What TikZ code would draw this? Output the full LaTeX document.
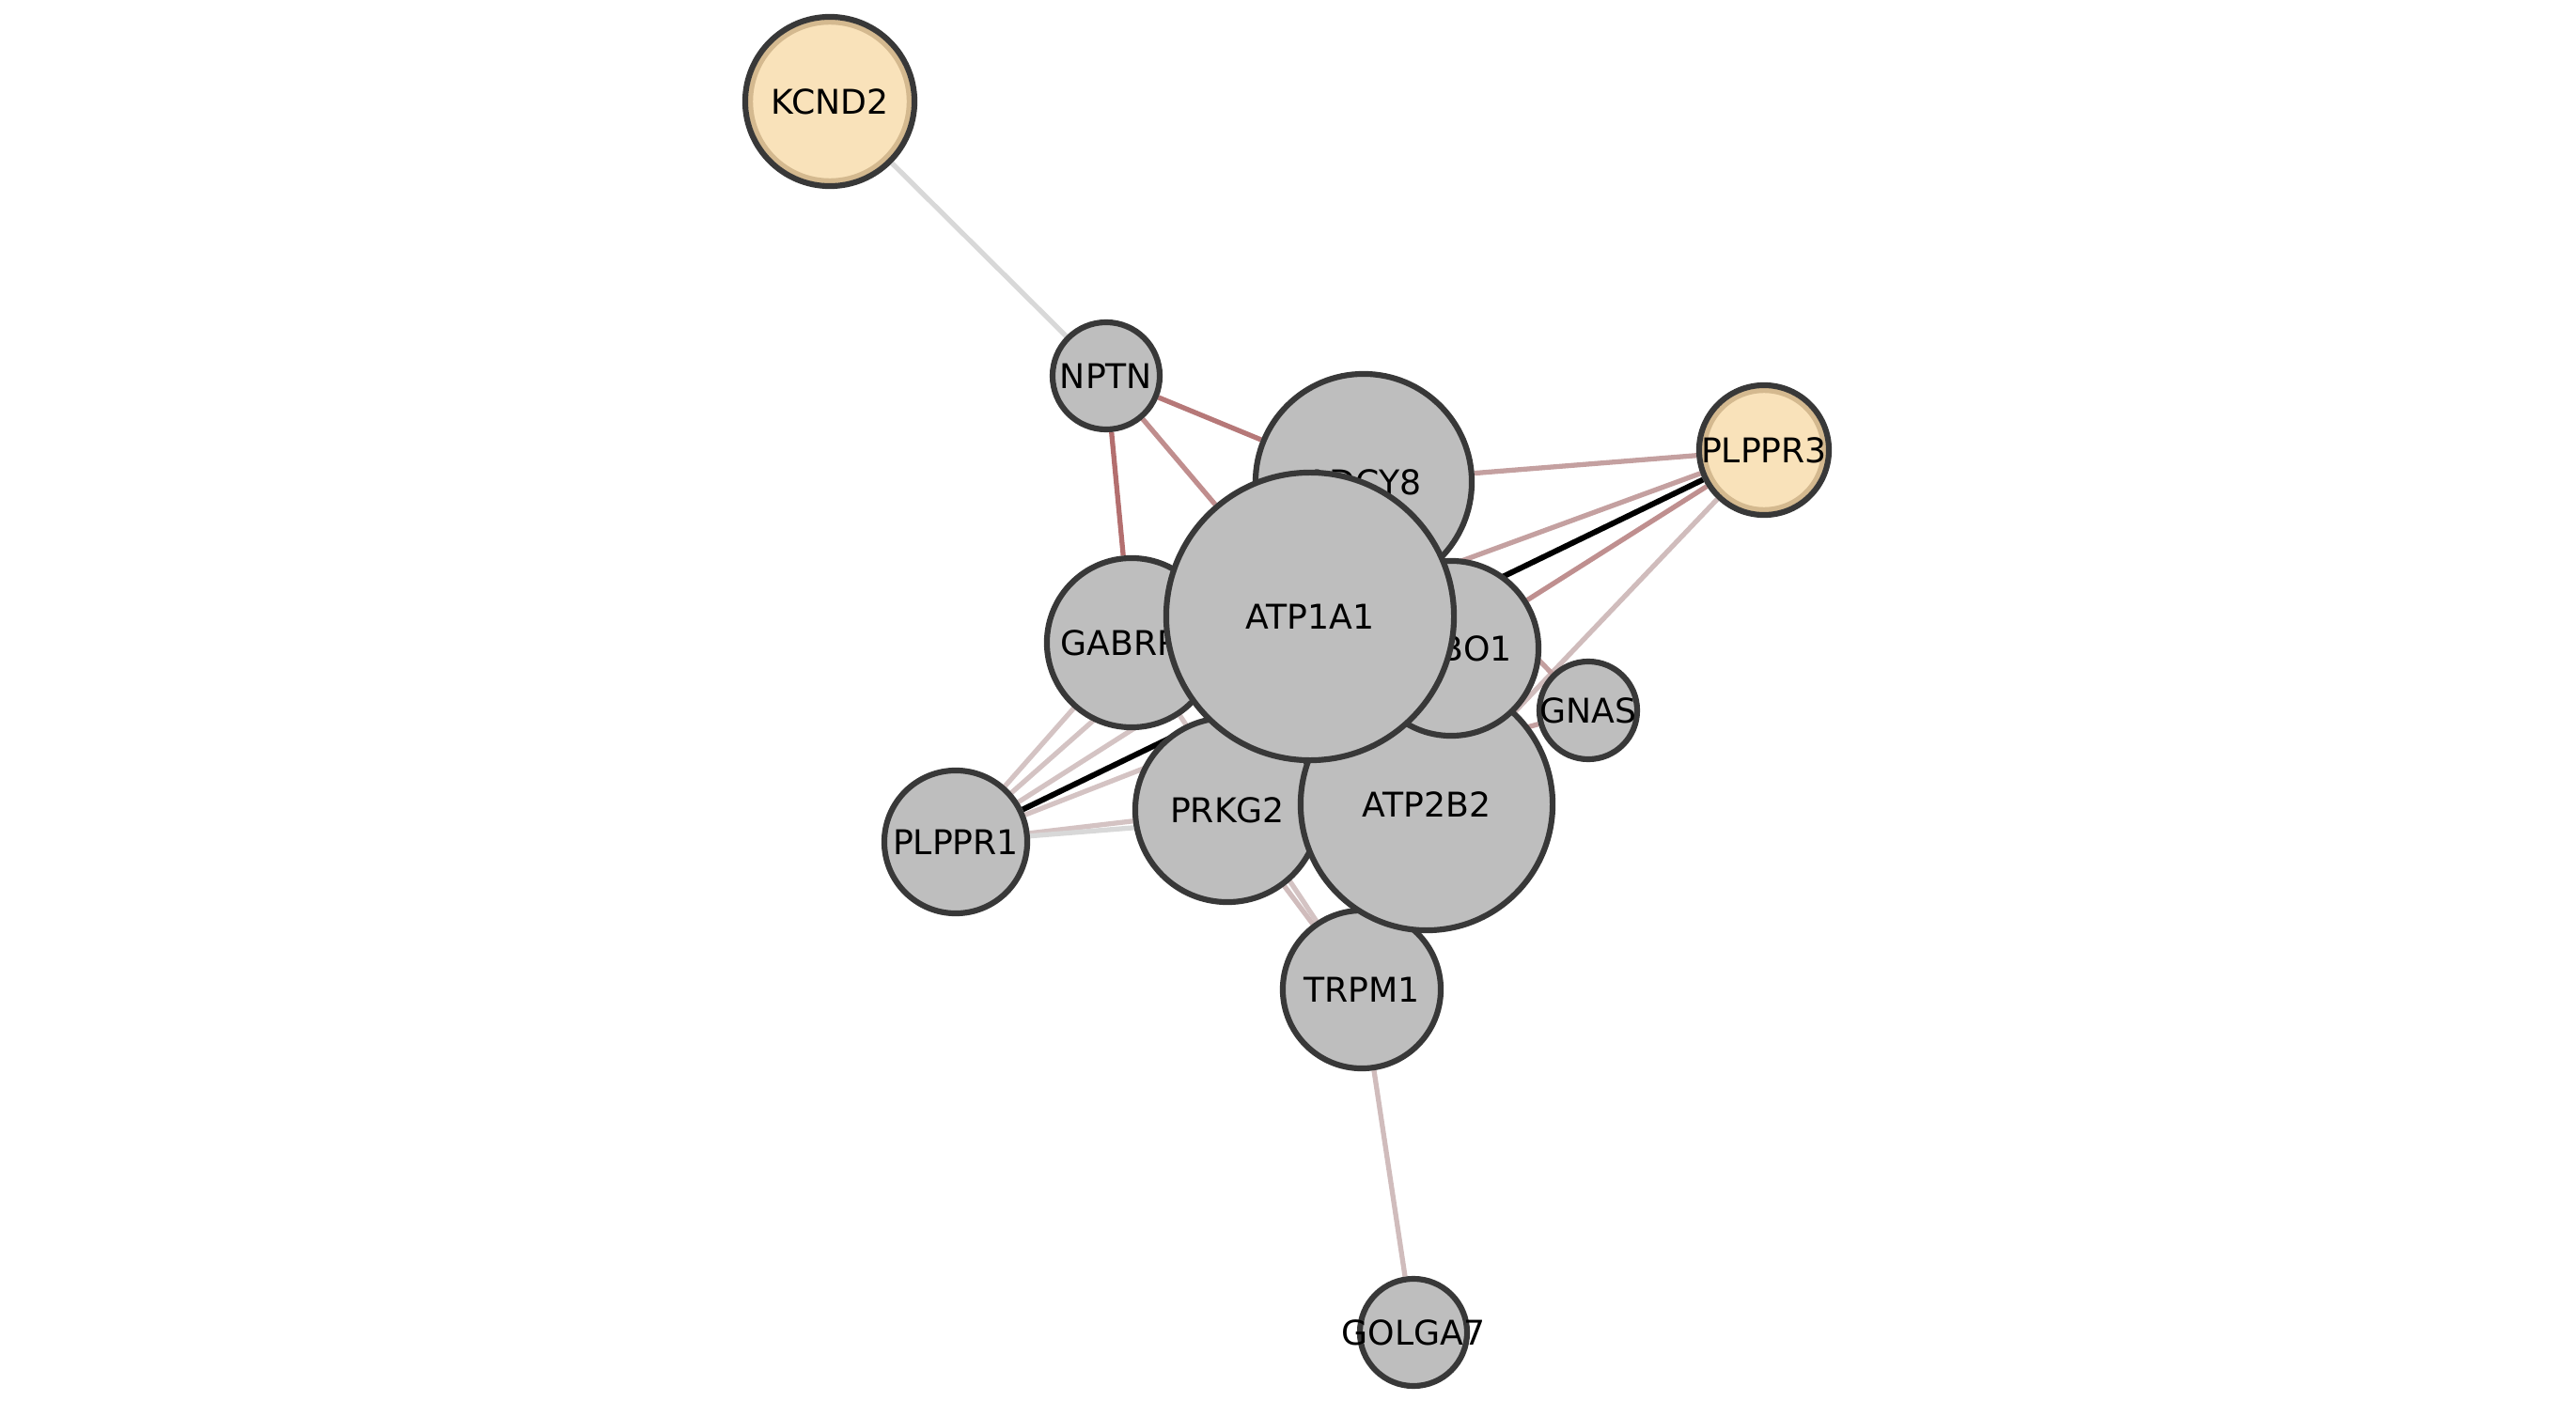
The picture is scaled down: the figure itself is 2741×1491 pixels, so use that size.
\documentclass[tikz,border=0pt]{standalone}
\usepackage{fontspec}
\setmainfont{DejaVu Sans}
\usepackage{xcolor}
\usepackage{tikz}
\usetikzlibrary{backgrounds}

\definecolor{nodefill}{HTML}{BEBEBE}
\definecolor{nodeline}{HTML}{383838}
\definecolor{hitfill}{HTML}{F9E2BA}
\definecolor{hitring}{HTML}{D4B98F}
\definecolor{redA}{HTML}{B36F6F}
\definecolor{redB}{HTML}{B67878}
\definecolor{redC}{HTML}{C08E8E}
\definecolor{pinkA}{HTML}{C4A0A0}
\definecolor{pinkB}{HTML}{BF8F8F}
\definecolor{pinkC}{HTML}{D0BCBC}
\definecolor{pinkD}{HTML}{D4C3C3}
\definecolor{grayl}{HTML}{D8D8D8}

\newcommand{\gn}[1]{\makebox[0pt]{#1}}

\begin{document}
\begin{tikzpicture}[
    x=0.01cm, y=-0.01cm,
    gene/.style={circle, draw=nodeline, fill=nodefill, line width=1.75pt, minimum size=#1, inner sep=0pt, font=\fontsize{10.3}{12}\selectfont},
    hit/.style={gene=#1, fill=hitfill, path picture={\draw[hitring, line width=1.5pt] (path picture bounding box.center) circle[radius={#1/2-1.6pt}];}},
    link/.style={line width=1.5pt}
]
\useasboundingbox (0,0) rectangle (2741,1491);

\node[hit=1.80cm] (kcnd2) at (883,108) {\gn{KCND2}};
\node[gene=1.14cm] (nptn) at (1177,400) {\gn{NPTN}};
\node[hit=1.38cm] (plppr3) at (1877,479) {\gn{PLPPR3}};
\node[gene=1.14cm] (golga7) at (1504,1418) {\gn{GOLGA7}};
\node[gene=1.52cm] (plppr1) at (1017,896) {\gn{PLPPR1}};
\node[gene=1.68cm] (trpm1) at (1449,1053) {\gn{TRPM1}};
\node[gene=1.04cm] (gnas) at (1690,756) {\gn{GNAS}};
\node[gene=1.80cm] (gabrr1) at (1204,684) {\gn{GABRR1}};
\node[gene=2.30cm] (adcy8) at (1451,513) {\gn{ADCY8}};
\node[gene=1.96cm] (prkg2) at (1306,862) {\gn{PRKG2}};
\node[gene=2.68cm] (atp2b2) at (1518,856) {\gn{ATP2B2}};
\node[gene=1.86cm] (robo1) at (1544,690) {\gn{ROBO1}};
\node[gene=3.06cm] (atp1a1) at (1394,656) {\gn{ATP1A1}};

\begin{scope}[on background layer]
\draw[link, grayl] (kcnd2) -- (nptn);
\draw[link, redA] (nptn) -- (gabrr1);
\draw[link, redB] (nptn) -- (adcy8);
\draw[link, redC] (nptn) -- (atp1a1);
\draw[link, pinkA] (plppr3) -- (adcy8);
\draw[link, pinkA] (plppr3) -- (atp1a1);
\draw[link, pinkB] (plppr3) -- (robo1);
\draw[link, pinkC] (plppr3) -- (atp2b2);
\draw[link, black, line width=1.7pt] (plppr3) -- (plppr1);
\draw[link, pinkA] (adcy8) -- (gnas);
\draw[link, pinkA] (prkg2) -- (gnas);
\draw[link, pinkD] (plppr1) -- (gabrr1);
\draw[link, pinkD] (plppr1) -- (adcy8);
\draw[link, pinkD] (plppr1) -- (atp1a1);
\draw[link, pinkD] (plppr1) -- (robo1);
\draw[link, pinkD] (plppr1) -- (prkg2);
\draw[link, grayl] (plppr1) -- (atp2b2);
\draw[link, pinkC] (prkg2) -- (trpm1);
\draw[link, pinkD] (gabrr1) -- (trpm1);
\draw[link, pinkC] (trpm1) -- (golga7);
\end{scope}
\end{tikzpicture}
\end{document}
